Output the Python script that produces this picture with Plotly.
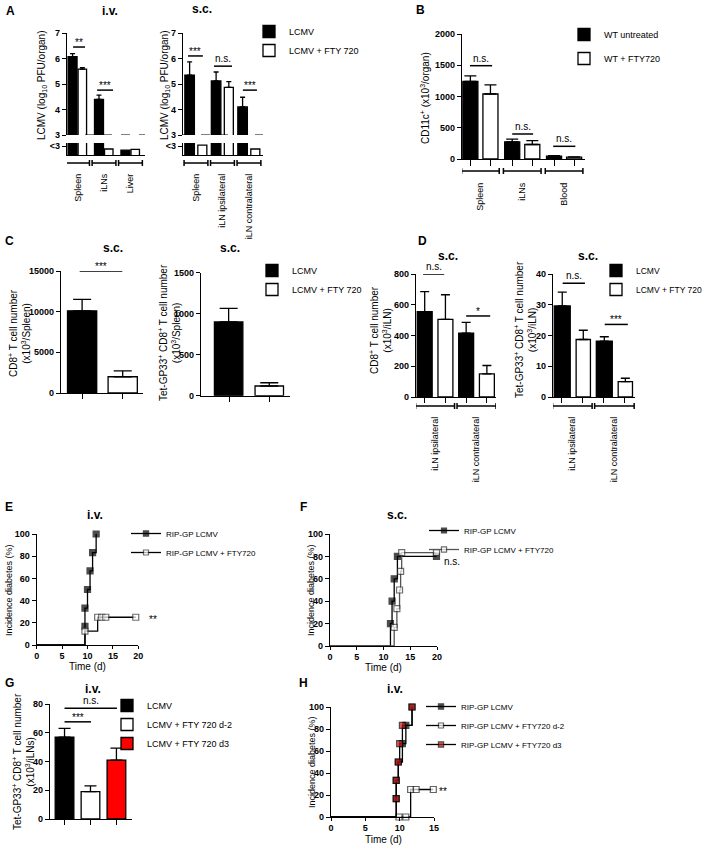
import plotly.graph_objects as go

W, H = 708, 849
FONT = "Liberation Sans, Arial, sans-serif"

# ---------------- data ----------------
# A: LCMV titre, log10 PFU/organ (values under 3 sit in the "<3" strip)
a_iv_organs = ["Spleen", "iLNs", "Liver"]
a_iv_lcmv = [6.07, 4.40, 2.40]
a_iv_lcmv_sem = [0.12, 0.16, 0.0]
a_iv_fty = [5.58, 2.50, 2.47]
a_iv_fty_sem = [0.06, 0.0, 0.0]

a_sc_organs = ["Spleen", "iLN ipsilateral", "iLN contralateral"]
a_sc_lcmv = [5.35, 5.12, 4.10]
a_sc_lcmv_sem = [0.52, 0.35, 0.38]
a_sc_fty = [2.83, 4.87, 2.50]
a_sc_fty_sem = [0.0, 0.22, 0.0]

# B: CD11c+ (x10^3/organ)
b_organs = ["Spleen", "iLNs", "Blood"]
b_wt = [1240, 275, 45]
b_wt_sem = [90, 42, 8]
b_fty = [1040, 232, 30]
b_fty_sem = [145, 62, 5]

# C: spleen, s.c.
c_groups = ["LCMV", "LCMV + FTY 720"]
c_cd8 = [10100, 2000]
c_cd8_sem = [1400, 720]
c_tet = [900, 118]
c_tet_sem = [165, 40]

# D: iLN, s.c.
d_nodes = ["iLN ipsilateral", "iLN contralateral"]
d_cd8_lcmv = [555, 415]
d_cd8_lcmv_sem = [130, 70]
d_cd8_fty = [505, 150]
d_cd8_fty_sem = [160, 55]
d_tet_lcmv = [29.6, 18.2]
d_tet_lcmv_sem = [4.5, 1.4]
d_tet_fty = [18.7, 5.0]
d_tet_fty_sem = [3.0, 1.1]

# E / F / H: incidence of diabetes (%) at event times (d)
e_lcmv_t = [9.5, 9.5, 10.0, 10.5, 11.0, 11.7]
e_lcmv_inc = [16.7, 33.3, 50.0, 66.7, 83.3, 100.0]
e_fty_t = [9.5, 12.0, 12.8, 13.6, 19.5]
e_fty_inc = [12.5, 25.0, 25.0, 25.0, 25.0]

f_lcmv_t = [11.3, 11.6, 12.0, 12.6, 19.9]
f_lcmv_inc = [20.0, 40.0, 60.0, 80.0, 80.0]
f_fty_t = [12.0, 12.5, 13.0, 13.2, 13.4, 19.9]
f_fty_inc = [16.7, 33.3, 50.0, 66.7, 83.3, 83.3]

# G: Tet-GP33+ CD8+ (x10^3/iLNs), i.v.
g_groups = ["LCMV", "LCMV + FTY 720 d-2", "LCMV + FTY 720 d3"]
g_tet = [57, 19, 41]
g_tet_sem = [6, 4, 8.3]

h_lcmv_t = [9.5, 9.5, 9.8, 10.4, 10.9, 11.8]
h_lcmv_inc = [16.7, 33.3, 50.0, 66.7, 83.3, 100.0]
h_d2_t = [9.9, 10.9, 11.6, 12.4, 14.9]
h_d2_inc = [0.0, 0.0, 25.0, 25.0, 25.0]
h_d3_t = [9.5, 9.5, 9.8, 10.0, 10.4, 11.8]
h_d3_inc = [16.7, 33.3, 50.0, 66.7, 83.3, 100.0]

# ---------------- helpers ----------------
fig = go.Figure()
shapes, notes = [], []
layout = dict(width=W, height=H, margin=dict(l=0, r=0, t=0, b=0), template="none",
              paper_bgcolor="white", plot_bgcolor="white", barmode="overlay",
              font=dict(family=FONT, size=10, color="black"))


def px_x(p):
    return p / W


def px_y(p):
    return 1 - p / H


AXIS = dict(showline=True, linecolor="black", linewidth=1.3, ticks="outside", ticklen=4,
            tickwidth=1.3, tickcolor="black", showgrid=False, zeroline=False, fixedrange=True,
            tickfont=dict(size=9, family=FONT, weight="bold", color="black"))
CAT_FONT = dict(size=9, family=FONT, color="black")


def make_axes(n, xs, ys, xr, yr, xkw=None, ykw=None):
    s = "" if n == 1 else str(n)
    xa = dict(AXIS, domain=[px_x(xs[0]), px_x(xs[1])], range=xr, anchor="y" + s)
    ya = dict(AXIS, domain=[px_y(ys[1]), px_y(ys[0])], range=yr, anchor="x" + s)
    xa.update(xkw or {})
    ya.update(ykw or {})
    layout["xaxis" + s] = xa
    layout["yaxis" + s] = ya
    return "x" + s, "y" + s


def add_bars(xa, ya, vals, sem, fill, name, legend="legend", show=False,
             offset=-0.18, width=0.36, cap=3, x=None):
    x = list(range(len(vals))) if x is None else x
    err = None
    if sem is not None:
        err = dict(type="data", array=sem, arrayminus=[0] * len(sem), symmetric=False,
                   color="black", thickness=1.3, width=cap)
    fig.add_trace(go.Bar(x=x, y=vals, xaxis=xa, yaxis=ya, offset=offset, width=width,
                         marker=dict(color=fill, line=dict(color="black", width=1.3)),
                         error_y=err, name=name, legend=legend, showlegend=show,
                         legendgroup=legend + name, hoverinfo="skip"))


def km(xa, ya, t, inc, name, legend, mfill, mline, lcolor="black"):
    fig.add_trace(go.Scatter(
        x=[0] + t, y=[0] + inc, xaxis=xa, yaxis=ya, mode="lines+markers",
        line=dict(shape="hv", color=lcolor, width=1.3),
        marker=dict(symbol="square", size=[0] + [6] * len(t), color=mfill,
                    line=dict(color=mline, width=1.2)),
        name=name, legend=legend, legendgroup=legend + name, cliponaxis=False,
        hoverinfo="skip"))


def sig(xa, ya, x0, x1, y, text, shift=0):
    shapes.append(dict(type="line", xref=xa, yref=ya, x0=x0, x1=x1, y0=y, y1=y,
                       line=dict(color="black", width=1.5)))
    notes.append(dict(xref=xa, yref=ya, x=(x0 + x1) / 2, y=y, text=text, showarrow=False,
                      yanchor="bottom", yshift=shift, font=dict(size=10, color="black")))


def brackets(xa, n, ypx, half=0.45):
    for c in range(n):
        shapes.append(dict(type="line", xref=xa, yref="paper", x0=c - half, x1=c + half,
                           y0=px_y(ypx), y1=px_y(ypx), line=dict(color="black", width=1.5)))
        for e in (c - half, c + half):
            shapes.append(dict(type="line", xref=xa, yref="paper", x0=e, x1=e,
                               y0=px_y(ypx - 3), y1=px_y(ypx + 3),
                               line=dict(color="black", width=1.5)))


def text(x, y, s, size=10, bold=False, angle=0):
    notes.append(dict(xref="paper", yref="paper", x=px_x(x), y=px_y(y),
                      text="<b>%s</b>" % s if bold else s, showarrow=False,
                      xanchor="center", yanchor="middle", textangle=angle,
                      font=dict(size=size, family=FONT, color="black")))


def legend_at(text_x, row_y, size=9, gap=0):
    return dict(x=px_x(text_x - 41), y=px_y(row_y - 15), xanchor="left", yanchor="top",
                bgcolor="rgba(0,0,0,0)", font=dict(size=size, family=FONT, color="black"),
                tracegroupgap=gap, traceorder="grouped", itemclick=False, itemdoubleclick=False)


def cat_axis(labels, standoff):
    return dict(tickvals=list(range(len(labels))), ticktext=labels, ticks="", tickangle=-90,
                tickfont=CAT_FONT, ticklabelstandoff=standoff)


# ---------------- A ----------------
xa1, ya1 = make_axes(1, (67, 145), (33, 135), [-0.40, 2.55], [3, 7],
                     xkw=dict(visible=False), ykw=dict(tickvals=[3, 4, 5, 6, 7]))
xa2, ya2 = make_axes(2, (67, 145), (143, 155), [-0.40, 2.55], [2, 3],
                     xkw=cat_axis(a_iv_organs, 14), ykw=dict(tickvals=[2.75], ticktext=["<3"]))
xa3, ya3 = make_axes(3, (183, 263), (33, 135), [-0.49, 2.53], [3, 7],
                     xkw=dict(visible=False), ykw=dict(tickvals=[3, 4, 5, 6, 7]))
xa4, ya4 = make_axes(4, (183, 263), (143, 155), [-0.49, 2.53], [2, 3],
                     xkw=cat_axis(a_sc_organs, 14), ykw=dict(tickvals=[2.75], ticktext=["<3"]))

add_bars(xa1, ya1, a_iv_lcmv, a_iv_lcmv_sem, "black", "LCMV", show=True, offset=-0.36, width=0.34, cap=2.5)
add_bars(xa1, ya1, a_iv_fty, a_iv_fty_sem, "white", "LCMV + FTY 720", show=True, offset=0.02, width=0.32, cap=2.5)
add_bars(xa2, ya2, a_iv_lcmv, None, "black", "LCMV", offset=-0.36, width=0.34)
add_bars(xa2, ya2, a_iv_fty, None, "white", "LCMV + FTY 720", offset=0.02, width=0.32)
add_bars(xa3, ya3, a_sc_lcmv, a_sc_lcmv_sem, "black", "LCMV", offset=-0.42, width=0.36, cap=2.5)
add_bars(xa3, ya3, a_sc_fty, a_sc_fty_sem, "white", "LCMV + FTY 720", offset=0.07, width=0.34, cap=2.5)
add_bars(xa4, ya4, a_sc_lcmv, None, "black", "LCMV", offset=-0.42, width=0.36)
add_bars(xa4, ya4, a_sc_fty, None, "white", "LCMV + FTY 720", offset=0.07, width=0.34)
for xa, ya in ((xa1, ya1), (xa3, ya3)):
    shapes.append(dict(type="line", xref=xa + " domain", yref=ya, x0=0, x1=1, y0=3, y1=3,
                       line=dict(color="black", width=1.2, dash="dash")))
brackets(xa2, 3, 163)
brackets(xa4, 3, 163)
sig(xa1, ya1, -0.17, 0.28, 6.45, "**", -3)
sig(xa1, ya1, 0.74, 1.34, 4.76, "***", -3)
sig(xa3, ya3, -0.30, 0.26, 6.10, "***", -3)
sig(xa3, ya3, 0.68, 1.36, 5.70, "n.s.")
sig(xa3, ya3, 1.77, 2.30, 4.76, "***", -3)

# ---------------- B ----------------
xa5, ya5 = make_axes(5, (462, 585), (34, 159), [-0.44, 2.5], [0, 2000],
                     xkw=dict(cat_axis(b_organs, 19),
                              minor=dict(tickvals=[i + d for i in range(3) for d in (-0.24, 0.24)],
                                         ticks="outside", ticklen=6, tickwidth=1.3, tickcolor="black")),
                     ykw=dict(tickvals=[0, 500, 1000, 1500, 2000]))
add_bars(xa5, ya5, b_wt, b_wt_sem, "black", "WT untreated", legend="legend2", show=True,
         offset=-0.42, width=0.36, cap=6)
add_bars(xa5, ya5, b_fty, b_fty_sem, "white", "WT + FTY720", legend="legend2", show=True,
         offset=0.06, width=0.36, cap=6)
brackets(xa5, 3, 171)
sig(xa5, ya5, -0.25, 0.28, 1493, "n.s.")
sig(xa5, ya5, 0.76, 1.26, 400, "n.s.")
sig(xa5, ya5, 1.74, 2.27, 203, "n.s.")

# ---------------- C ----------------
xa6, ya6 = make_axes(6, (61, 143), (271, 393), [-0.52, 1.5], [0, 15000],
                     xkw=dict(tickvals=[0, 1], showticklabels=False, ticklen=5),
                     ykw=dict(tickvals=[0, 5000, 10000, 15000], tickformat="d"))
xa7, ya7 = make_axes(7, (201, 290), (272.7, 395.7), [-0.69, 1.5], [0, 1500],
                     xkw=dict(tickvals=[0, 1], showticklabels=False, ticklen=5),
                     ykw=dict(tickvals=[0, 500, 1000, 1500], tickformat="d"))
for i, fill in enumerate(("black", "white")):
    add_bars(xa6, ya6, [c_cd8[i]], [c_cd8_sem[i]], fill, c_groups[i], legend="legend3",
             show=True, offset=-0.36, width=0.72, cap=9, x=[i])
    add_bars(xa7, ya7, [c_tet[i]], [c_tet_sem[i]], fill, c_groups[i], legend="legend3",
             offset=-0.36, width=0.70, cap=9, x=[i])
sig(xa6, ya6, -0.06, 0.99, 15000, "***", -3)
sig(xa7, ya7, -0.02, 0.96, 1525, "***", -3)

# ---------------- D ----------------
d_minor = dict(tickvals=[i + d for i in range(2) for d in (-0.25, 0.25)],
               ticks="outside", ticklen=5, tickwidth=1.3, tickcolor="black")
xa8, ya8 = make_axes(8, (416, 496), (274, 397), [-0.46, 1.47], [0, 800],
                     xkw=dict(cat_axis(d_nodes, 15), minor=d_minor),
                     ykw=dict(tickvals=[0, 200, 400, 600, 800]))
xa9, ya9 = make_axes(9, (553, 635), (274, 397), [-0.46, 1.49], [0, 40],
                     xkw=dict(cat_axis(d_nodes, 15), minor=d_minor),
                     ykw=dict(tickvals=[0, 10, 20, 30, 40]))
add_bars(xa8, ya8, d_cd8_lcmv, d_cd8_lcmv_sem, "black", "LCMV", legend="legend4", show=True,
         offset=-0.43, width=0.36, cap=4.5)
add_bars(xa8, ya8, d_cd8_fty, d_cd8_fty_sem, "white", "LCMV + FTY 720", legend="legend4", show=True,
         offset=0.07, width=0.36, cap=4.5)
add_bars(xa9, ya9, d_tet_lcmv, d_tet_lcmv_sem, "black", "LCMV", legend="legend4",
         offset=-0.43, width=0.38, cap=4.5)
add_bars(xa9, ya9, d_tet_fty, d_tet_fty_sem, "white", "LCMV + FTY 720", legend="legend4",
         offset=0.09, width=0.34, cap=4.5)
brackets(xa8, 2, 406, 0.47)
brackets(xa9, 2, 406, 0.47)
sig(xa8, ya8, -0.29, 0.22, 800, "n.s.")
sig(xa8, ya8, 0.75, 1.33, 527, "*", -3)
sig(xa9, ya9, -0.23, 0.30, 37, "n.s.")
sig(xa9, ya9, 0.77, 1.32, 23.6, "***", -3)

# ---------------- E / F ----------------
inc_ticks = dict(tickvals=[0, 20, 40, 60, 80, 100])
t_ticks = dict(ticklen=3, ticklabelstandoff=-1)
xa10, ya10 = make_axes(10, (36.7, 138.3), (534, 645), [0, 20], [0, 100],
                       xkw=dict(t_ticks, tickvals=[0, 5, 10, 15, 20]), ykw=inc_ticks)
xa11, ya11 = make_axes(11, (330, 437), (534, 646), [0, 20], [0, 100],
                       xkw=dict(t_ticks, tickvals=[0, 5, 10, 15, 20]), ykw=inc_ticks)
km(xa10, ya10, e_lcmv_t, e_lcmv_inc, "RIP-GP LCMV", "legend5", "black", "black")
km(xa10, ya10, e_fty_t, e_fty_inc, "RIP-GP LCMV + FTY720", "legend5", "white", "#333333")
km(xa11, ya11, f_lcmv_t, f_lcmv_inc, "RIP-GP LCMV", "legend6", "black", "black")
km(xa11, ya11, f_fty_t, f_fty_inc, "RIP-GP LCMV + FTY720", "legend6", "white", "#333333", "#555555")

# ---------------- G ----------------
xa12, ya12 = make_axes(12, (50, 132), (704, 819), [-0.56, 2.6], [0, 80],
                       xkw=dict(tickvals=[0, 1, 2], showticklabels=False, ticklen=5),
                       ykw=dict(tickvals=[0, 20, 40, 60, 80]))
for i, fill in enumerate(("black", "white", "#ff0000")):
    add_bars(xa12, ya12, [g_tet[i]], [g_tet_sem[i]], fill, g_groups[i], legend="legend7",
             show=True, offset=-0.36, width=0.72, cap=6, x=[i])
sig(xa12, ya12, 0.0, 2.02, 77, "n.s.")
sig(xa12, ya12, 0.0, 1.02, 67.6, "***", -3)

# ---------------- H ----------------
xa13, ya13 = make_axes(13, (331, 434), (707, 817), [0, 15], [0, 100],
                       xkw=dict(t_ticks, tickvals=[0, 5, 10, 15]), ykw=inc_ticks)
km(xa13, ya13, h_lcmv_t, h_lcmv_inc, "RIP-GP LCMV", "legend8", "black", "black")
km(xa13, ya13, h_d2_t, h_d2_inc, "RIP-GP LCMV + FTY720 d-2", "legend8", "white", "#222222")
km(xa13, ya13, h_d3_t, h_d3_inc, "RIP-GP LCMV + FTY720 d3", "legend8", "#d41414", "black")

# ---------------- legends ----------------
layout["legend"] = legend_at(290, 32)
layout["legend2"] = legend_at(605, 35, gap=5)
layout["legend3"] = legend_at(293, 271)
layout["legend4"] = legend_at(637, 271, size=8.5)
layout["legend5"] = legend_at(167, 534, size=8)
layout["legend6"] = legend_at(465, 531, size=8)
layout["legend7"] = legend_at(148, 706)
layout["legend8"] = legend_at(462, 707, size=8)

# ---------------- texts ----------------
for letter, x, y in (("A", 10, 11), ("B", 420, 10), ("C", 9, 241), ("D", 422, 241),
                     ("E", 9, 507), ("F", 303, 507), ("G", 9, 683), ("H", 303, 683)):
    text(x, y, letter, size=12, bold=True)
for t, x, y in (("i.v.", 110, 11), ("s.c.", 202, 9), ("s.c.", 113, 248), ("s.c.", 230, 248),
                ("s.c.", 448, 256), ("s.c.", 588, 256), ("i.v.", 95, 515), ("s.c.", 397, 515),
                ("i.v.", 93, 689), ("i.v.", 395, 689)):
    text(x, y, t, size=12, bold=True)

# significance labels beside the survival curves (outside the axis ranges)
text(153, 619, "**")
text(452, 561, "n.s.")
text(443, 791, "**")

lcmv_title = "LCMV (log<sub>10</sub> PFU/organ)"
text(42, 85, lcmv_title, angle=-90)
text(165, 85, lcmv_title, angle=-90)
text(425, 98, "CD11c<sup>+</sup> (x10<sup>3</sup>/organ)", angle=-90)
text(19, 333, "CD8<sup>+</sup> T cell number<br>(x10<sup>3</sup>/Spleen)", angle=-90)
text(169, 333, "Tet-GP33<sup>+</sup> CD8<sup>+</sup> T cell number<br>(x10<sup>3</sup>/Spleen)", angle=-90)
text(380, 330, "CD8<sup>+</sup> T cell number<br>(x10<sup>3</sup>/iLN)", angle=-90)
text(525, 330, "Tet-GP33<sup>+</sup> CD8<sup>+</sup> T cell number<br>(x10<sup>3</sup>/iLN)", angle=-90)
text(23, 762, "Tet-GP33<sup>+</sup> CD8<sup>+</sup> T cell number<br>(x10<sup>3</sup>/iLNs)", angle=-90)
for x, y in ((9, 590), (311, 590), (312, 762)):
    text(x, y, "Incidence diabetes (%)", size=9, angle=-90)
for x, y in ((87, 666), (383, 667), (383, 839)):
    text(x, y, "Time (d)", size=10)

layout["shapes"] = shapes
layout["annotations"] = notes
fig.update_layout(**layout)
# the page body has a default 8px margin; drop it so the figure sits at the page origin
fig.write_html("out.html", config={"displayModeBar": False},
               post_script="document.body.style.margin='0';")
